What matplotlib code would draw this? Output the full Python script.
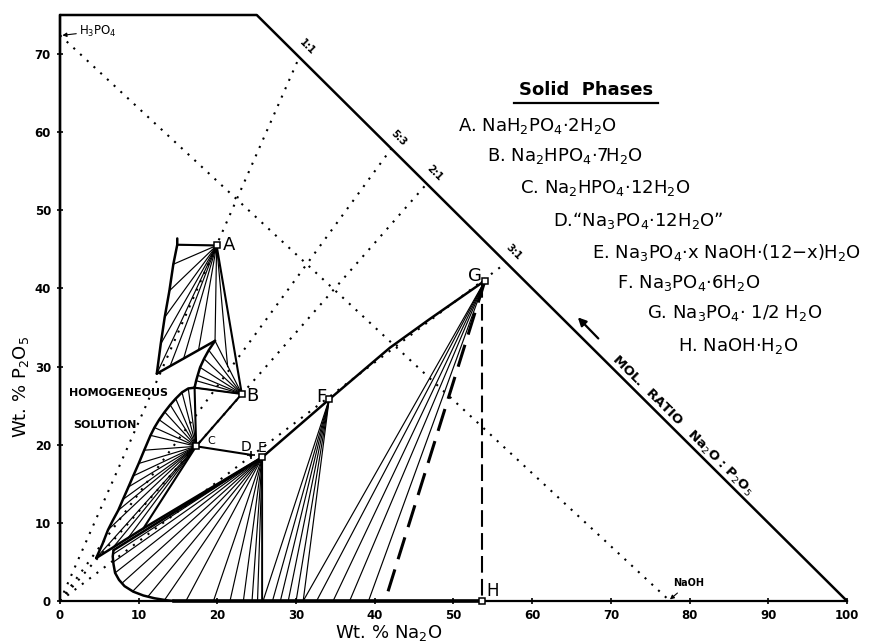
import matplotlib
matplotlib.use("Agg")
import matplotlib.pyplot as plt
import numpy as np

# ---------------- data (wt % Na2O, wt % P2O5) ----------------
phase_names = ["A", "B", "C", "D", "E", "F", "G", "H"]
phase_x = [19.9, 23.1, 17.3, 24.3, 25.7, 34.2, 54.0, 53.6]
phase_y = [45.5, 26.5, 19.8, 18.7, 18.4, 25.8, 41.0, 0.0]

legend_lines = [
    r"A. NaH$_2$PO$_4$·2H$_2$O",
    r"B. Na$_2$HPO$_4$·7H$_2$O",
    r"C. Na$_2$HPO$_4$·12H$_2$O",
    r"D.“Na$_3$PO$_4$·12H$_2$O”",
    r"E. Na$_3$PO$_4$·x NaOH·(12−x)H$_2$O",
    r"F. Na$_3$PO$_4$·6H$_2$O",
    r"G. Na$_3$PO$_4$· 1/2 H$_2$O",
    r"H. NaOH·H$_2$O",
]

# boundary of the diagram
outline_x = [0, 0, 25.0, 100.0]
outline_y = [0, 75.0, 75.0, 0]

# mol-ratio rays from origin: end points on x+y=100
ratio_labels = ["1:1", "5:3", "2:1", "3:1"]
ratio_end_x = [30.4, 42.1, 46.6, 56.7]

h3po4_y = 72.4
naoh_x = 77.5

# liquid curves
a_curve_x = [14.9, 14.9, 14.4, 13.9, 13.3, 12.8, 12.3]
a_curve_y = [46.4, 45.6, 43.1, 39.7, 36.3, 32.9, 29.1]
a_lower_x = [12.3, 19.7]
a_lower_y = [29.1, 33.3]
b_curve_x = [19.7, 18.9, 18.3, 17.8, 17.5, 17.3, 17.1]
b_curve_y = [33.3, 32.1, 31.0, 29.9, 28.9, 28.2, 27.3]
c_curve_x = [17.1, 16.3, 15.5, 14.7, 14.0, 13.3, 12.6, 12.0, 11.5, 10.7, 10.0,
             9.3, 8.7, 8.0, 7.4, 6.7, 6.1, 5.4, 4.6]
c_curve_y = [27.3, 27.2, 26.7, 25.9, 25.1, 24.2, 23.2, 22.2, 21.2, 19.3, 17.6,
             16.0, 14.6, 13.0, 11.6, 10.3, 9.1, 7.3, 5.5]
pq_x = [4.6, 10.6, 25.7]          # lower line through Q to E
pq_y = [5.5, 9.3, 18.4]
e_top_x = [6.8, 25.7]
e_top_y = [6.5, 18.4]
e_curve_x = [6.8, 6.7, 6.8, 7.0, 7.5, 8.2, 9.3, 10.6, 12.0, 13.5, 14.5]
e_curve_y = [6.5, 5.7, 4.7, 3.6, 2.7, 1.9, 1.2, 0.7, 0.35, 0.1, 0.0]
efg_x = [25.7, 34.2, 41.9, 47.0, 54.0]
efg_y = [18.4, 25.8, 32.4, 36.1, 41.0]
ice_x = [14.5, 53.6]
ice_y = [0.0, 0.0]
metastable_end_x = 41.3

# tie-line liquid end points for each solid
ties_A_x = [14.9, 14.4, 13.9, 13.3, 12.8, 12.3, 14.0, 15.7, 17.6, 19.7, 21.3]
ties_A_y = [45.6, 43.1, 39.7, 36.3, 32.9, 29.1, 30.1, 31.0, 32.1, 33.3, 30.0]
ties_B_x = [19.7, 18.9, 18.3, 17.8, 17.5, 17.3, 17.1]
ties_B_y = [33.3, 32.1, 31.0, 29.9, 28.9, 28.2, 27.3]
ties_C_x = [16.3, 15.5, 14.7, 14.0, 13.3, 12.6, 12.0, 11.5, 10.7, 10.0, 9.3,
            8.7, 8.0, 7.4, 6.1, 4.6, 6.7, 8.6]
ties_C_y = [27.2, 26.7, 25.9, 25.1, 24.2, 23.2, 22.2, 21.2, 19.3, 17.6, 16.0,
            14.6, 13.0, 11.6, 9.1, 5.5, 6.8, 8.0]
ties_E_x = [6.75, 6.8, 7.0, 7.9, 9.3, 11.2, 13.3, 16.0, 19.5, 21.6, 23.3, 24.4, 25.1, 25.7]
ties_E_y = [6.0, 5.0, 3.6, 2.3, 1.3, 0.6, 0.15, 0, 0, 0, 0, 0, 0, 0]
ties_F_x = [25.8, 27.0, 28.0, 29.0, 30.0, 30.9]
ties_F_y = [0, 0, 0, 0, 0, 0]
ties_G_x = [30.9, 32.6, 34.7, 36.8, 39.2]
ties_G_y = [0, 0, 0, 0, 0]

# ---------------- figure ----------------
fig = plt.figure(figsize=(8.7, 6.43), dpi=100)
ax = fig.add_axes([60 / 870, 42 / 643, 787 / 870, 586 / 643])
ax.set_xlim(0, 100)
ax.set_ylim(0, 75)
for s in ["top", "right"]:
    ax.spines[s].set_visible(False)
for s in ["left", "bottom"]:
    ax.spines[s].set_linewidth(1.6)
ax.set_xticks(range(0, 101, 10))
ax.set_yticks(range(0, 71, 10))
ax.tick_params(axis="both", direction="inout", length=5, width=1.2,
               labelsize=8.5)
ax.tick_params(axis="x", pad=3)
ax.tick_params(axis="y", pad=4)
for lab in ax.get_xticklabels() + ax.get_yticklabels():
    lab.set_fontweight("bold")

K = "black"
thick = dict(color=K, lw=1.8, solid_capstyle="round", solid_joinstyle="round")
thin = dict(color=K, lw=0.85)
dotted = dict(color=K, lw=1.5, linestyle=(0, (1, 3.4)))

ax.plot(outline_x, outline_y, clip_on=False, **thick)

# dotted mol-ratio rays and H3PO4-NaOH line
for ex, lab in zip(ratio_end_x, ratio_labels):
    ax.plot([0, ex], [0, 100 - ex], **dotted)
    ax.annotate(lab, (ex, 100 - ex), xytext=(5.5, 7.5), textcoords="offset points",
                rotation=-45, ha="center", va="center", fontsize=7, fontweight="bold")
ax.plot([0, naoh_x], [h3po4_y, 0], **dotted)

# tie lines
P = dict(zip(phase_names, zip(phase_x, phase_y)))
for name, tx, ty in [("A", ties_A_x, ties_A_y), ("B", ties_B_x, ties_B_y),
                     ("C", ties_C_x, ties_C_y), ("E", ties_E_x, ties_E_y),
                     ("F", ties_F_x, ties_F_y), ("G", ties_G_x, ties_G_y)]:
    sx, sy = P[name]
    for x, y in zip(tx, ty):
        ax.plot([sx, x], [sy, y], **thin)

# boundaries / liquid curves
ax.plot(a_curve_x, a_curve_y, **thick)
ax.plot(a_lower_x, a_lower_y, **thick)
ax.plot(b_curve_x, b_curve_y, **thick)
ax.plot(c_curve_x, c_curve_y, **thick)
ax.plot(pq_x, pq_y, **thick)
ax.plot(e_top_x, e_top_y, **thick)
ax.plot(e_curve_x, e_curve_y, **thick)
ax.plot(efg_x, efg_y, **thick)
ax.plot(ice_x, ice_y, color=K, lw=2.6, clip_on=False)
# solid-solid and invariant lines
for a, bx, by in [("A", *P["B"]), ("C", *P["B"]), ("C", *P["D"]),
                  ("C", pq_x[1], pq_y[1]), ("C", b_curve_x[-1], b_curve_y[-1]),
                  ("B", b_curve_x[-1], b_curve_y[-1]), ("A", a_curve_x[1], a_curve_y[1])]:
    ax.plot([P[a][0], bx], [P[a][1], by], color=K, lw=1.5)
ax.plot([P["E"][0], P["E"][0]], [P["E"][1], 0], color=K, lw=1.2)

# dashed lines from G
ax.plot([P["G"][0], metastable_end_x], [P["G"][1], 0], color=K, lw=2.2,
        linestyle=(0, (7.5, 3.5)))
ax.plot([P["H"][0], P["H"][0]], [P["G"][1], 0], color=K, lw=1.5,
        linestyle=(0, (8, 3)))

# phase point markers
for n in phase_names:
    if n == "D":
        ax.plot(*P[n], marker="+", ms=6, mew=1.2, color=K)
    else:
        ax.plot(*P[n], marker="s", ms=4.5, mfc="white", mec=K, mew=1.1,
                clip_on=False, zorder=5)

lab_off = {"A": (4.5, 0, "left", 13), "B": (3.5, -1.5, "left", 13),
           "C": (8, 3.5, "left", 8), "D": (-8, 6, "left", 10),
           "E": (-3, 7, "left", 10), "F": (-2, 1.5, "right", 13),
           "G": (-2, 3.5, "right", 13), "H": (3.5, 7.5, "left", 12)}
for n, (dx, dy, ha, fs) in lab_off.items():
    ax.annotate(n, P[n], xytext=(dx, dy), textcoords="offset points",
                ha=ha, va="center", fontsize=fs)

# annotations
ax.annotate(r"H$_3$PO$_4$", (0.3, h3po4_y), xytext=(12, 3), textcoords="offset points",
            ha="left", va="center", fontsize=8.5,
            arrowprops=dict(arrowstyle="-|>", lw=0.8, color=K, mutation_scale=6,
                            shrinkA=0, shrinkB=0))
ax.annotate("NaOH", (naoh_x, 0.2), xytext=(13.5, 11.5), textcoords="offset points",
            ha="center", va="center", fontsize=7, fontweight="bold",
            arrowprops=dict(arrowstyle="-|>", lw=0.8, color=K, mutation_scale=6,
                            shrinkA=2, shrinkB=0))
ax.text(1.1, 26.6, "HOMOGENEOUS", fontsize=8, fontweight="bold", ha="left", va="center")
ax.text(1.65, 22.5, "SOLUTION", fontsize=8, fontweight="bold", ha="left", va="center")
ax.text(79.0, 22.4, r"MOL.  RATIO   Na$_2$O : P$_2$O$_5$", rotation=-44.8,
        rotation_mode="anchor", ha="center", va="center", fontsize=9.5, fontweight="bold")
ax.annotate("", xy=(65.8, 36.3), xytext=(68.4, 33.6),
            arrowprops=dict(arrowstyle="-|>", lw=1.6, color=K, mutation_scale=12,
                            shrinkA=0, shrinkB=0))

# legend block
ax.text(66.8, 65.4, "Solid  Phases", ha="center", va="center", fontsize=13,
        fontweight="bold")
ax.plot([57.7, 76.0], [63.7, 63.7], color=K, lw=1.6, clip_on=False)
legend_pos_x = [50.6, 54.3, 58.5, 62.6, 67.6, 70.8, 74.6, 78.5]
legend_pos_y = [60.8, 57.0, 52.9, 48.7, 44.6, 40.7, 36.8, 32.7]
for t, x, y in zip(legend_lines, legend_pos_x, legend_pos_y):
    ax.text(x, y, t, ha="left", va="center", fontsize=13, clip_on=False)

fig.text(389 / 870, 1 - 633 / 643, r"Wt. % Na$_2$O", ha="center", va="center",
         fontsize=13)
fig.text(21 / 870, 1 - 387 / 643, r"Wt. % P$_2$O$_5$", ha="center", va="center",
         fontsize=13, rotation=90)

fig.savefig("out.png", dpi=100)
